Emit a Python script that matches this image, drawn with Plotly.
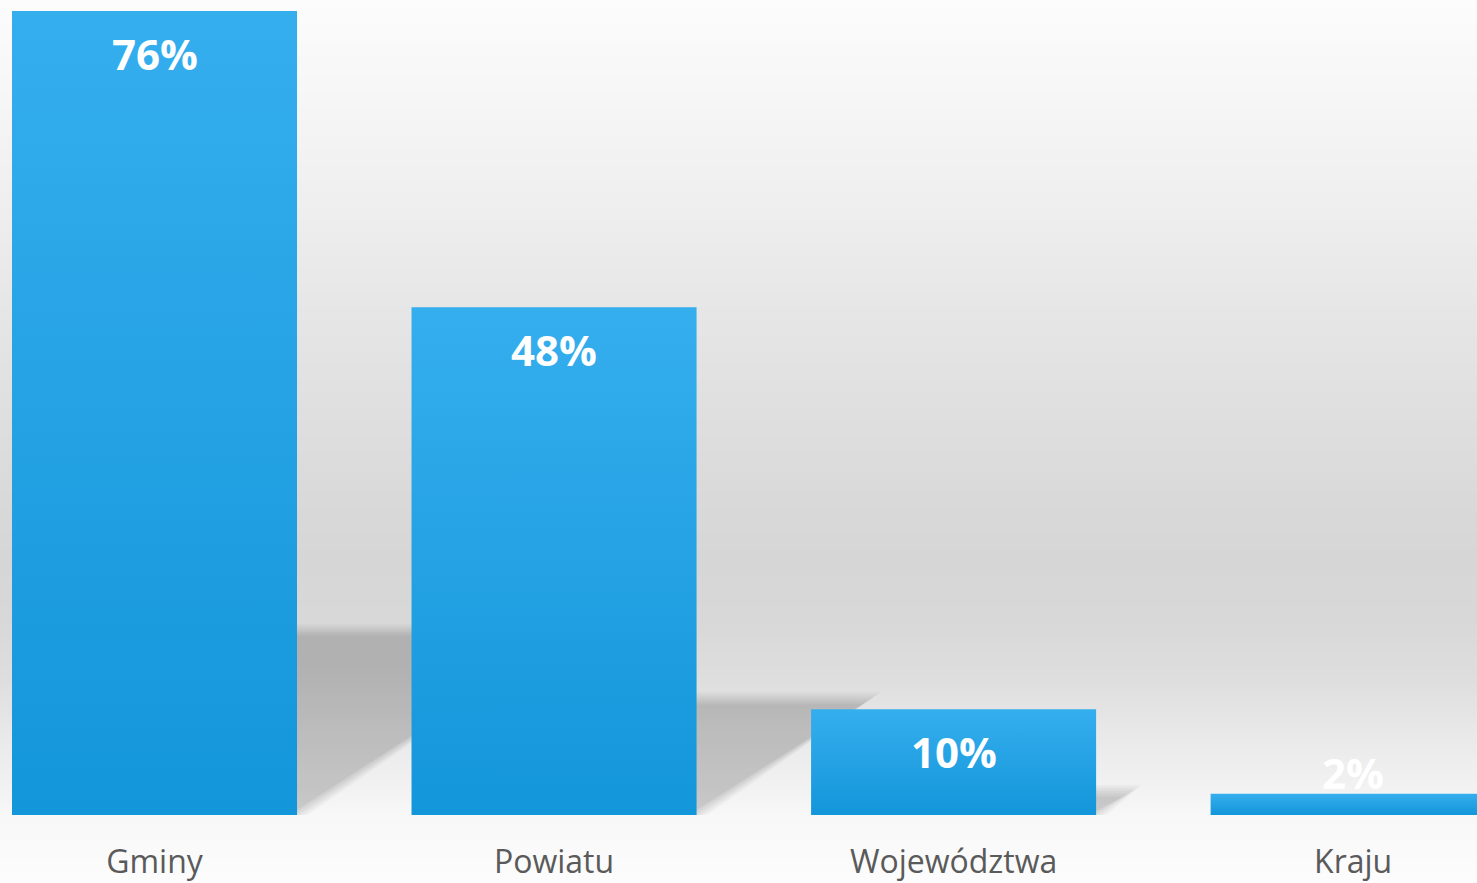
import plotly.graph_objects as go

# ---- data ----
categories = ["Gminy", "Powiatu", "Województwa", "Kraju"]
values = [76, 48, 10, 2]
value_labels = ["76%", "48%", "10%", "2%"]

# ---- geometry / style ----
W, H = 1477, 883
M_B = 68
PLOT_H = H - M_B
Y_MAX = 77.04
X_MIN, X_MAX = -0.3867, 3.310
HALF_W = 0.3567
PX_X = W / (X_MAX - X_MIN)
PX_Y = PLOT_H / Y_MAX

BAR_TOP = "#35aeee"
BAR_BOT = "#1396da"
SHADOW_RATIO = 0.23
SHADOW_SLOPE = 1.5

bg_stops = [(0, 252), (100, 246), (200, 239), (300, 231), (400, 224), (500, 217),
            (560, 214), (620, 216), (680, 222), (740, 234), (790, 242), (815, 248), (883, 252)]


def gray_at(y):
    for (y0, g0), (y1, g1) in zip(bg_stops[:-1], bg_stops[1:]):
        if y0 <= y <= y1:
            t = (y - y0) / (y1 - y0)
            return g0 + (g1 - g0) * t
    return bg_stops[-1][1]


fig = go.Figure()

for i, (c, v) in enumerate(zip(categories, values)):
    xs = [i - HALF_W, i + HALF_W, i + HALF_W, i - HALF_W, i - HALF_W]
    ys = [0, 0, v, v, 0]
    fig.add_trace(go.Scatter(
        x=xs, y=ys, mode="lines", line=dict(width=0, color=BAR_BOT),
        fill="toself", fillcolor=BAR_BOT,
        fillgradient=dict(type="vertical", colorscale=[[0, BAR_BOT], [1, BAR_TOP]]),
        name=c, hoverinfo="skip", showlegend=False))

shapes = []
# background gradient bands (paper coords, extend into bottom margin)
step = 3
for y in range(0, H, step):
    g = int(round(gray_at(y + step / 2)))
    shapes.append(dict(type="rect", xref="paper", yref="paper", layer="below",
                       x0=0, x1=1, y0=1 - (y + step) / PLOT_H, y1=1 - y / PLOT_H,
                       fillcolor=f"rgb({g},{g},{g})", line=dict(width=0)))

# soft shadows cast to the right of each bar
for i, v in enumerate(values):
    xr = i + HALF_W
    h = v * SHADOW_RATIO
    h_px = h * PX_Y
    for s in [6, 4, 2, 0, -2, -4, -6]:
        top = h + s / PX_Y
        if top <= 0:
            continue
        tip = xr + (h_px + s) * SHADOW_SLOPE / PX_X
        br = xr + s * 1.8 / PX_X
        xl = xr - 0.02
        path = f"M {xl},0 L {xl},{top} L {tip},{top} L {max(br, xl)},0 Z"
        shapes.append(dict(type="path", xref="x", yref="y", layer="below", path=path,
                           fillcolor="rgba(0,0,0,0.027)", line=dict(width=0)))

annotations = []
for i, (v, lab) in enumerate(zip(values, value_labels)):
    inside = v >= 5
    annotations.append(dict(
        x=i, y=v, xref="x", yref="y", text=lab, showarrow=False,
        yanchor="top" if inside else "bottom",
        yshift=-12 if inside else -9,
        font=dict(family="Open Sans", size=42, color="white", weight="bold")))

fig.update_layout(
    width=W, height=H,
    margin=dict(l=0, r=0, t=0, b=M_B, pad=0),
    paper_bgcolor="#fafafa",
    plot_bgcolor="rgba(0,0,0,0)",
    shapes=shapes,
    annotations=annotations,
    showlegend=False,
    xaxis=dict(range=[X_MIN, X_MAX], tickvals=list(range(len(categories))), ticktext=categories,
               showgrid=False, zeroline=False, showline=False, ticks="",
               tickfont=dict(family="Open Sans", size=32, color="#5a5a5a"),
               ticklabelstandoff=25, fixedrange=True),
    yaxis=dict(range=[0, Y_MAX], visible=False, fixedrange=True),
)

fig.write_html("out.html", config={"displayModeBar": False},
               post_script="document.body.style.margin='0';document.body.style.overflow='hidden';")
